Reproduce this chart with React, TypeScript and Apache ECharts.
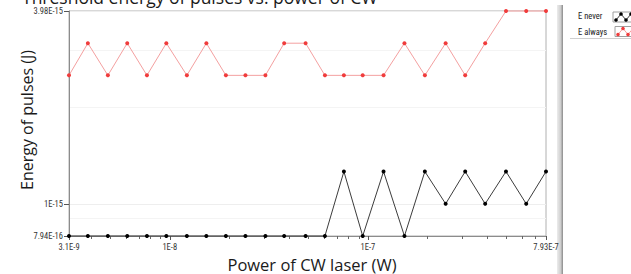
import React, { useEffect, useRef } from "react";
import * as echarts from "echarts";

// Power of CW laser (W) at each measurement
const powerW = [
  3.1e-9, 3.86e-9, 4.87e-9, 6.1e-9, 7.67e-9, 9.61e-9, 1.22e-8, 1.53e-8, 1.92e-8,
  2.41e-8, 3.04e-8, 3.78e-8, 4.85e-8, 6.07e-8, 7.57e-8, 9.42e-8, 1.2e-7, 1.53e-7,
  1.94e-7, 2.47e-7, 3.1e-7, 3.91e-7, 4.98e-7, 6.3e-7, 7.93e-7,
];
// Energy of pulses (J)
const eNever = [
  7.94e-16, 7.94e-16, 7.94e-16, 7.94e-16, 7.94e-16, 7.94e-16, 7.94e-16, 7.94e-16,
  7.94e-16, 7.94e-16, 7.94e-16, 7.94e-16, 7.94e-16, 7.94e-16, 1.26e-15, 7.94e-16,
  1.26e-15, 7.94e-16, 1.26e-15, 1e-15, 1.26e-15, 1e-15, 1.26e-15, 1e-15, 1.26e-15,
];
const eAlways = [
  2.51e-15, 3.16e-15, 2.51e-15, 3.16e-15, 2.51e-15, 3.16e-15, 2.51e-15, 3.16e-15,
  2.51e-15, 2.51e-15, 2.51e-15, 3.16e-15, 3.16e-15, 2.51e-15, 2.51e-15, 2.51e-15,
  2.51e-15, 3.16e-15, 2.51e-15, 3.16e-15, 2.51e-15, 3.16e-15, 3.98e-15, 3.98e-15,
  3.98e-15,
];
const seriesNames = ["E never", "E always"];

const xTickValues = [3.1e-9, 1e-8, 1e-7, 7.93e-7];
const xTickLabels = ["3.1E-9", "1E-8", "1E-7", "7.93E-7"];
const xMinorTicks = [
  4e-9, 5e-9, 6e-9, 7e-9, 8e-9, 9e-9, 2e-8, 3e-8, 4e-8, 5e-8, 6e-8, 7e-8, 8e-8, 9e-8,
  2e-7, 3e-7, 4e-7, 5e-7, 6e-7, 7e-7,
];
const yTickValues = [7.94e-16, 1e-15, 3.98e-15];
const yTickLabels = ["7.94E-16", "1E-15", "3.98E-15"];
const yMinorGrid = [9e-16, 2e-15, 3e-15];

const titleText = "Threshold energy of pulses vs. power of CW";
const xTitle = "Power of CW laser (W)";
const yTitle = "Energy of pulses (J)";

const lx = (v: number) => Math.log10(v);

function pickLabel(v: number, vals: number[], labels: string[]) {
  let best = 0;
  for (let i = 1; i < vals.length; i++) {
    if (Math.abs(v - lx(vals[i])) < Math.abs(v - lx(vals[best]))) best = i;
  }
  return labels[best];
}

const tickFont = "'Liberation Sans Narrow', 'Roboto Condensed', Roboto, sans-serif";
const mainFont = "'Open Sans', 'Noto Sans', sans-serif";

export default function App() {
  const ref = useRef<HTMLDivElement>(null);
  useEffect(() => {
    if (!ref.current) return;
    const chart = echarts.init(ref.current, undefined, { renderer: "svg" });
    const xMin = lx(xTickValues[0]);
    const xMax = lx(xTickValues[xTickValues.length - 1]);
    const yMin = lx(yTickValues[0]);
    const yMax = lx(yTickValues[yTickValues.length - 1]);

    const zig = (x0: number, y0: number, color: string, lineColor: string) => {
      const pts = [
        [x0, y0 + 7],
        [x0 + 5, y0 + 1],
        [x0 + 10, y0 + 7],
        [x0 + 15, y0 + 1],
      ];
      return [
        {
          type: "rect",
          shape: { x: x0 - 3, y: y0 - 1, width: 30, height: 10 },
          style: { fill: "#fff", stroke: "#a0a0a0", lineWidth: 1 },
        },
        {
          type: "polyline",
          shape: { points: pts },
          style: { stroke: lineColor, lineWidth: 1, fill: null },
        },
        ...pts.map((p) => ({
          type: "circle",
          shape: { cx: p[0], cy: p[1], r: 1.8 },
          style: { fill: color },
        })),
      ];
    };

    chart.setOption({
      animation: false,
      backgroundColor: "#ffffff",
      grid: {
        left: 69,
        top: 11,
        right: 85,
        bottom: 38,
        show: true,
        borderColor: "#b0b0b0",
        borderWidth: 1,
        containLabel: false,
        outerBoundsMode: "none",
      },
      xAxis: [
        {
          type: "value",
          min: xMin,
          max: xMax,
          position: "bottom",
          axisLine: { show: true, lineStyle: { color: "#8c8c8c", width: 1 } },
          axisTick: {
            show: true,
            length: 4,
            customValues: xTickValues.map(lx),
            lineStyle: { color: "#555" },
          },
          axisLabel: {
            show: true,
            customValues: xTickValues.map(lx),
            formatter: (v: number) => pickLabel(v, xTickValues, xTickLabels),
            margin: 6,
            fontSize: 8.5,
            fontFamily: tickFont,
            color: "#333",
          },
          splitLine: { show: false },
        },
        {
          type: "value",
          min: xMin,
          max: xMax,
          position: "bottom",
          axisLine: { show: false },
          axisTick: {
            show: true,
            length: 3,
            customValues: xMinorTicks.map(lx),
            lineStyle: { color: "#666" },
          },
          axisLabel: { show: false },
          splitLine: { show: false },
        },
      ],
      yAxis: [
        {
          type: "value",
          min: yMin,
          max: yMax,
          position: "left",
          axisLine: { show: true, lineStyle: { color: "#8c8c8c", width: 1 } },
          axisTick: {
            show: true,
            length: 5,
            customValues: yTickValues.map(lx),
            lineStyle: { color: "#555" },
          },
          axisLabel: {
            show: true,
            customValues: yTickValues.map(lx),
            formatter: (v: number) => pickLabel(v, yTickValues, yTickLabels),
            margin: 6,
            fontSize: 8.5,
            fontFamily: tickFont,
            color: "#333",
          },
          splitLine: { show: true, lineStyle: { color: "#eeeeee", width: 1 } },
        },
        {
          type: "value",
          min: yMin,
          max: yMax,
          position: "left",
          axisLine: { show: false },
          axisTick: { show: false, customValues: yMinorGrid.map(lx) },
          axisLabel: { show: false },
          splitLine: { show: true, lineStyle: { color: "#f4f4f4", width: 1 } },
        },
      ],
      series: [
        {
          type: "line",
          name: seriesNames[0],
          xAxisIndex: 0,
          yAxisIndex: 0,
          data: powerW.map((p, i) => [lx(p), lx(eNever[i])]),
          symbol: "circle",
          symbolSize: 4,
          showAllSymbol: true,
          clip: false,
          lineStyle: { color: "#3c3c3c", width: 1 },
          itemStyle: { color: "#000000" },
          z: 4,
        },
        {
          type: "line",
          name: seriesNames[1],
          xAxisIndex: 0,
          yAxisIndex: 0,
          data: powerW.map((p, i) => [lx(p), lx(eAlways[i])]),
          symbol: "circle",
          symbolSize: 4,
          showAllSymbol: true,
          clip: false,
          lineStyle: { color: "#f4a0a0", width: 1 },
          itemStyle: { color: "#f03c3c" },
          z: 3,
        },
      ],
      graphic: [
        {
          type: "text",
          x: 22,
          y: -3,
          style: {
            text: titleText,
            font: `17.5px ${mainFont}`,
            fill: "#1a1a1a",
            textAlign: "left",
            textVerticalAlign: "middle",
          },
        },
        {
          type: "text",
          x: 312,
          y: 264,
          style: {
            text: xTitle,
            font: `16.5px ${mainFont}`,
            fill: "#1a1a1a",
            textAlign: "center",
            textVerticalAlign: "middle",
          },
        },
        {
          type: "text",
          x: 27,
          y: 120,
          rotation: Math.PI / 2,
          style: {
            text: yTitle,
            font: `16px ${mainFont}`,
            fill: "#1a1a1a",
            textAlign: "center",
            textVerticalAlign: "middle",
          },
        },
        {
          type: "rect",
          shape: { x: 557, y: 5, width: 6, height: 269 },
          style: {
            fill: {
              type: "linear",
              x: 0,
              y: 0,
              x2: 1,
              y2: 0,
              colorStops: [
                { offset: 0, color: "#ececec" },
                { offset: 0.6, color: "#cfcfcf" },
                { offset: 1, color: "#8a8a8a" },
              ],
            },
          },
        },
        {
          type: "line",
          shape: { x1: 570, y1: 38.5, x2: 631, y2: 38.5 },
          style: { stroke: "#cfcfcf", lineWidth: 1 },
        },
        {
          type: "text",
          x: 578,
          y: 16,
          style: {
            text: seriesNames[0],
            font: `8.5px ${tickFont}`,
            fill: "#222",
            textVerticalAlign: "middle",
          },
        },
        {
          type: "text",
          x: 578,
          y: 32,
          style: {
            text: seriesNames[1],
            font: `8.5px ${tickFont}`,
            fill: "#222",
            textVerticalAlign: "middle",
          },
        },
        ...zig(616, 13, "#000000", "#3c3c3c"),
        ...zig(618, 27.5, "#f03c3c", "#f4a0a0"),
      ],
    });
    return () => chart.dispose();
  }, []);
  return (
    <div
      ref={ref}
      style={{ position: "fixed", left: 0, top: 0, width: 631, height: 274 }}
    />
  );
}
